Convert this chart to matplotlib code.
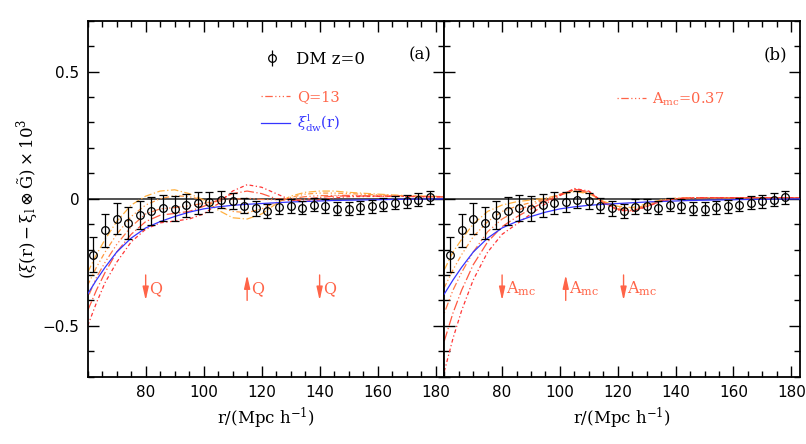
import numpy as np
import matplotlib.pyplot as plt
from matplotlib.ticker import MultipleLocator, FuncFormatter
from matplotlib.lines import Line2D

plt.rcParams['mathtext.fontset'] = 'dejavuserif'

# DM z=0 measurement, same in both panels
r_dm = [62, 66, 70, 74, 78, 82, 86, 90, 94, 98, 102, 106, 110, 114, 118,
        122, 126, 130, 134, 138, 142, 146, 150, 154, 158, 162, 166, 170, 174, 178]
xi_dm = [-0.220, -0.125, -0.078, -0.095, -0.065, -0.047, -0.037, -0.039, -0.026, -0.017,
         -0.013, -0.004, -0.008, -0.028, -0.038, -0.047, -0.031, -0.030, -0.035, -0.023,
         -0.029, -0.039, -0.040, -0.034, -0.030, -0.023, -0.015, -0.010, -0.004, 0.005]
err_dm = [0.070, 0.066, 0.060, 0.062, 0.055, 0.055, 0.052, 0.050, 0.046, 0.042,
          0.038, 0.034, 0.032, 0.030, 0.030, 0.028, 0.028, 0.028, 0.027, 0.027,
          0.027, 0.026, 0.026, 0.026, 0.026, 0.025, 0.025, 0.025, 0.025, 0.025]

# model curves
r_mod = [60, 63, 66, 70, 75, 80, 85, 90, 95, 100, 105, 110, 115, 120, 125, 130,
         135, 140, 145, 150, 160, 170, 183]
xi_dw = [-0.375, -0.32, -0.27, -0.21, -0.155, -0.115, -0.09, -0.07, -0.053, -0.04,
         -0.032, -0.026, -0.022, -0.019, -0.016, -0.013, -0.011, -0.009, -0.007, -0.006,
         -0.004, -0.002, -0.001]

# panel (a): varying Q
q_1 = [-0.29, -0.22, -0.16, -0.09, -0.025, 0.01, 0.03, 0.035, 0.02, -0.005, -0.045, -0.075,
       -0.08, -0.06, -0.02, 0.01, 0.025, 0.03, 0.03, 0.025, 0.018, 0.012, 0.008]
q_2 = [-0.34, -0.27, -0.21, -0.14, -0.07, -0.025, 0.0, 0.012, 0.008, -0.005, -0.03, -0.05,
       -0.055, -0.04, -0.015, 0.005, 0.018, 0.022, 0.022, 0.02, 0.015, 0.011, 0.008]
q_3 = [-0.39, -0.31, -0.25, -0.18, -0.11, -0.06, -0.04, -0.035, -0.028, -0.018, -0.01, -0.003,
       0.002, -0.003, -0.004, 0.0, 0.008, 0.012, 0.013, 0.013, 0.011, 0.009, 0.007]
q_4 = [-0.44, -0.36, -0.29, -0.21, -0.14, -0.09, -0.065, -0.058, -0.05, -0.03, -0.005, 0.02,
       0.03, 0.02, 0.0, -0.008, -0.002, 0.005, 0.01, 0.011, 0.01, 0.009, 0.007]
q_5 = [-0.50, -0.41, -0.33, -0.25, -0.17, -0.12, -0.095, -0.088, -0.08, -0.06, -0.02, 0.03,
       0.055, 0.045, 0.02, -0.005, -0.01, -0.005, 0.003, 0.008, 0.009, 0.009, 0.007]

# panel (b): varying A_mc
a_1 = [-0.28, -0.21, -0.16, -0.10, -0.05, -0.025, -0.012, -0.005, 0.002, 0.015, 0.028, 0.02,
       -0.01, -0.03, -0.035, -0.02, -0.005, 0.002, 0.004, 0.004, 0.004, 0.004, 0.004]
a_2 = [-0.35, -0.28, -0.22, -0.15, -0.09, -0.05, -0.03, -0.015, -0.002, 0.015, 0.032, 0.022,
       -0.012, -0.035, -0.04, -0.025, -0.007, 0.001, 0.004, 0.004, 0.004, 0.004, 0.004]
a_3 = [-0.45, -0.36, -0.29, -0.21, -0.13, -0.08, -0.048, -0.024, -0.004, 0.018, 0.035, 0.025,
       -0.015, -0.04, -0.045, -0.028, -0.008, 0.0, 0.003, 0.004, 0.004, 0.004, 0.004]
a_4 = [-0.56, -0.45, -0.36, -0.26, -0.17, -0.11, -0.072, -0.04, -0.01, 0.015, 0.037, 0.028,
       -0.015, -0.042, -0.048, -0.03, -0.01, 0.0, 0.003, 0.004, 0.004, 0.004, 0.004]
a_5 = [-0.68, -0.55, -0.44, -0.32, -0.21, -0.14, -0.10, -0.06, -0.02, 0.012, 0.04, 0.03,
       -0.015, -0.045, -0.05, -0.032, -0.01, 0.0, 0.003, 0.004, 0.004, 0.004, 0.004]

arrow_r_a = [80, 115, 140]
arrow_dir_a = ['down', 'up', 'down']
arrow_r_b = [80, 102, 122]
arrow_dir_b = ['down', 'up', 'down']

curve_colors = ['#FFB040', '#FF9840', '#FF7848', '#FF5840', '#FF3535']
curve_styles = [(0, (6, 2, 1, 2)), (0, (4, 2, 1, 2, 1, 2)), (0, (1, 2, 6, 2, 1, 2, 1, 2)),
                (0, (8, 2, 1, 2)), (0, (3, 2, 1, 2))]
blue = '#3535FF'
tomato = '#FF6448'
serif = 'DejaVu Serif'


def style_axes(ax, show_ylabels):
    ax.set_xlim(60, 183)
    ax.set_ylim(-0.7, 0.7)
    ax.set_xticks([80, 100, 120, 140, 160, 180])
    ax.xaxis.set_minor_locator(MultipleLocator(5))
    ax.set_yticks([-0.5, 0, 0.5])
    ax.yaxis.set_minor_locator(MultipleLocator(0.1))
    ax.yaxis.set_major_formatter(FuncFormatter(
        lambda v, p: '0' if abs(v) < 1e-9 else ('%g' % v).replace('-', '\u2212')))
    ax.tick_params(which='both', direction='in', top=True, right=True, width=1.0,
                   labelsize=11, labelleft=show_ylabels, pad=6)
    ax.tick_params(which='major', length=8)
    ax.tick_params(which='minor', length=4)
    for s in ax.spines.values():
        s.set_linewidth(1.3)
    ax.axhline(0, color='#333333', lw=1.2, zorder=1)
    ax.set_xlabel('r/(Mpc h$^{-1}$)', family=serif, fontsize=12, labelpad=4)


def draw_panel(ax, curves, arrow_r, arrow_dir, arrow_text):
    for c, col, ls in zip(curves, curve_colors, curve_styles):
        ax.plot(r_mod, c, color=col, ls=ls, lw=0.9, zorder=2)
    ax.plot(r_mod, xi_dw, color=blue, lw=0.9, zorder=3)
    ax.errorbar(r_dm, xi_dm, yerr=err_dm, fmt='o', mfc='none', mec='black', ms=5.5,
                mew=0.9, ecolor='black', elinewidth=0.9, capsize=2.8, capthick=0.9,
                zorder=5)
    for r, d in zip(arrow_r, arrow_dir):
        y0, y1 = (-0.30, -0.40) if d == 'down' else (-0.40, -0.30)
        ax.annotate('', xy=(r, y1), xytext=(r, y0),
                    arrowprops=dict(arrowstyle='-|>,head_length=0.8,head_width=0.18',
                                    color=tomato, lw=1.0, shrinkA=0, shrinkB=0))
        ax.text(r + 1.3, -0.355, arrow_text, color=tomato, fontsize=11.5, family=serif,
                va='center', ha='left')
    return Line2D([], [], color=tomato, ls=(0, (1, 2, 6, 2, 1, 2, 1, 2)), lw=0.9)


fig = plt.figure(figsize=(8.06, 4.44), dpi=100)
ax1 = fig.add_axes([0.1088, 0.1516, 0.4424, 0.8018])
ax2 = fig.add_axes([0.5512, 0.1516, 0.4413, 0.8018])

style_axes(ax1, True)
style_axes(ax2, False)

hq = draw_panel(ax1, [q_1, q_2, q_3, q_4, q_5], arrow_r_a, arrow_dir_a, 'Q')
ha = draw_panel(ax2, [a_1, a_2, a_3, a_4, a_5], arrow_r_b, arrow_dir_b, r'A$_{\rm mc}$')

ax1.set_ylabel(r'$(\xi(\rm r)-\xi_{\rm l}\otimes\tilde{\rm G})\times10^3$', fontsize=12,
               labelpad=2)

# legends, panel (a)
dm_handle = ax1.errorbar([], [], yerr=[], fmt='o', mfc='none', mec='black', ms=5.5, mew=0.9,
                         ecolor='black', elinewidth=0.9, capsize=2.8)
leg1 = ax1.legend([dm_handle], ['DM z=0'], loc='upper left', bbox_to_anchor=(0.49, 0.915),
                  frameon=False, handlelength=1.2, handletextpad=0.8, borderpad=0,
                  borderaxespad=0, prop={'family': serif, 'size': 12})
ax1.add_artist(leg1)
blue_handle = Line2D([], [], color=blue, lw=0.9)
leg2 = ax1.legend([hq, blue_handle], ['Q=13', r'$\xi^{\rm l}_{\rm dw}$(r)'], loc='upper left',
                  bbox_to_anchor=(0.486, 0.805), frameon=False, handlelength=2.0,
                  handletextpad=0.5, borderpad=0, borderaxespad=0, labelspacing=0.6,
                  prop={'family': serif, 'size': 10.5})
leg2.get_texts()[0].set_color(tomato)
leg2.get_texts()[1].set_color(blue)

leg3 = ax2.legend([ha], [r'A$_{\rm mc}$=0.37'], loc='upper left',
                  bbox_to_anchor=(0.486, 0.805), frameon=False, handlelength=2.0,
                  handletextpad=0.4, borderpad=0, borderaxespad=0,
                  prop={'family': serif, 'size': 10.5})
leg3.get_texts()[0].set_color(tomato)

ax1.text(0.965, 0.905, '(a)', transform=ax1.transAxes, ha='right', va='center',
         family=serif, fontsize=12)
ax2.text(0.965, 0.905, '(b)', transform=ax2.transAxes, ha='right', va='center',
         family=serif, fontsize=12)

fig.savefig('out.png', dpi=100)
